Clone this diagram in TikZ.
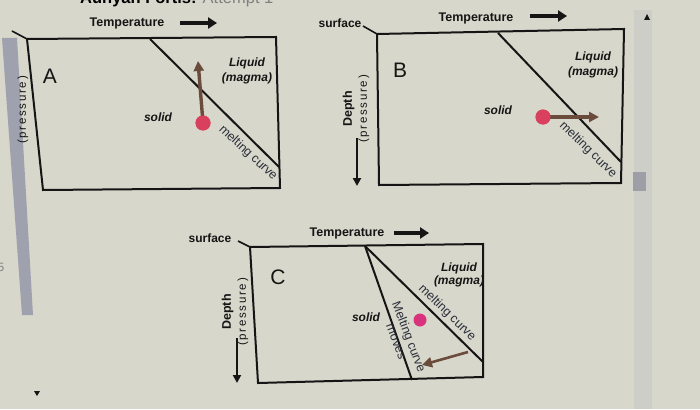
\documentclass[tikz,border=0pt]{standalone}
\usepackage{fontspec}
\setmainfont{Liberation Sans}
\usetikzlibrary{arrows.meta}
\definecolor{bg}{HTML}{D8D7CB}
\definecolor{ink}{HTML}{151515}
\definecolor{curvetext}{HTML}{2A2F3A}
\definecolor{brownarr}{HTML}{6A4B3C}
\definecolor{dotred}{HTML}{D9405E}
\definecolor{dotmag}{HTML}{D8337C}
\definecolor{barcol}{HTML}{9FA2AE}
\definecolor{scrollcol}{HTML}{CECEC8}
\definecolor{thumbcol}{HTML}{9D9EA6}
\newcommand{\pressfnt}{\fontsize{11.5}{13}\selectfont\addfontfeature{LetterSpace=15}}
\tikzset{
  box/.style={draw=ink, line width=2pt, line join=miter},
  meltline/.style={draw=ink, line width=2pt},
  surfline/.style={draw=ink, line width=1.6pt},
  tlabel/.style={font=\fontsize{12.5}{14}\selectfont\bfseries, text=ink, inner sep=0pt},
  surflabel/.style={font=\fontsize{12}{14}\selectfont\bfseries, text=ink, inner sep=0pt},
  tarrow/.style={draw=ink, line width=3.6pt, -{Triangle[length=9pt,width=11pt]}},
  darrow/.style={draw=ink, line width=2.2pt, -{Triangle[length=8pt,width=8pt]}},
  barrow/.style={draw=brownarr, line width=3.4pt, -{Triangle[length=10pt,width=10pt]}},
  panel/.style={font=\fontsize{21}{24}\selectfont, text=ink, inner sep=0pt},
  phase/.style={font=\fontsize{12}{14}\selectfont\bfseries\itshape, text=ink, inner sep=0pt, align=center},
  curvelabel/.style={font=\fontsize{12.5}{13.5}\selectfont, text=curvetext, inner sep=0pt, align=center},
  depthlabel/.style={font=\fontsize{12.5}{14}\selectfont, text=ink, inner sep=0pt, align=center, rotate=90},
  dot/.style={circle, fill=#1, inner sep=0pt, minimum size=15pt},
}
\begin{document}
\begin{tikzpicture}[x=1pt,y=-1pt]
\useasboundingbox (0,0) rectangle (700,409);
\clip (0,0) rectangle (700,409);
\fill[bg] (0,0) rectangle (700,409);

% screen artefacts
\fill[barcol] (2,38) -- (17,38) -- (33,315) -- (22,315) -- cycle;
\fill[scrollcol] (634,10) rectangle (652,409);
\fill[thumbcol] (633,172) rectangle (646,191);
\fill[ink] (644,20) -- (650,20) -- (647,14) -- cycle;
\fill[ink] (34,391) -- (40,391) -- (37,396) -- cycle;
\node[font=\fontsize{12}{14}\selectfont, text=gray, inner sep=0pt] (edge5) at (1,267) {5};

% title (cut off at top)
\node[anchor=base west, inner sep=0pt, font=\fontsize{16.5}{18}\selectfont] (title) at (80,4)
  {\textbf{Aunyah Fortis:} \textcolor{gray}{Attempt 1}};

% ================= Panel A =================
\coordinate (A1) at (27,39);
\coordinate (A2) at (276,37);
\coordinate (A3) at (280,188);
\coordinate (A4) at (43,190);
\coordinate (sA) at (12,31);
\draw[box] (A1) -- (A2) -- (A3) -- (A4) -- cycle;
\draw[surfline] (sA) -- (A1);
\coordinate (mA1) at (150,39);
\coordinate (mA2) at (279,167);
\draw[meltline] (mA1) -- (mA2);
\node[tlabel] (tA) at (127,23) {Temperature};
\coordinate (tAs) at (180,23);
\coordinate (tAe) at (217,23);
\draw[tarrow] (tAs) -- (tAe);
\node[panel] (labA) at (50,76) {A};
\node[phase] (liqA) at (247,71) {Liquid\\[1pt](magma)};
\node[phase] (solA) at (158,117) {solid};
\node[curvelabel, rotate=-43] (mcA) at (248,153) {melting curve};
\node[depthlabel] (dA) at (23,110) {\pressfnt(pressure)};
\coordinate (aAe) at (198,61);
\node[dot=dotred] (dotA) at (203,123) {};
\draw[barrow] (dotA.center) -- (aAe);
\node[dot=dotred] at (dotA) {};

% ================= Panel B =================
\coordinate (B1) at (377,34);
\coordinate (B2) at (624,29);
\coordinate (B3) at (621,183);
\coordinate (B4) at (379,185);
\coordinate (sB) at (363,26);
\draw[box] (B1) -- (B2) -- (B3) -- (B4) -- cycle;
\draw[surfline] (sB) -- (B1);
\node[surflabel] (surfB) at (340,23) {surface};
\coordinate (mB1) at (498,33);
\coordinate (mB2) at (621,162);
\draw[meltline] (mB1) -- (mB2);
\node[tlabel] (tB) at (476,18) {Temperature};
\coordinate (tBs) at (530,16);
\coordinate (tBe) at (567,16);
\draw[tarrow] (tBs) -- (tBe);
\node[panel] (labB) at (400,70) {B};
\node[phase] (liqB) at (593,65) {Liquid\\[1pt](magma)};
\node[phase] (solB) at (498,110) {solid};
\node[curvelabel, rotate=-44] (mcB) at (588,150) {melting curve};
\node[depthlabel] (dB) at (356,109) {\textbf{Depth}\\[1pt]\pressfnt(pressure)};
\coordinate (dBs) at (357,138);
\coordinate (dBe) at (357,186);
\draw[darrow] (dBs) -- (dBe);
\coordinate (aBe) at (599,117);
\node[dot=dotred] (dotB) at (543,117) {};
\draw[barrow] (dotB.center) -- (aBe);
\node[dot=dotred] at (dotB) {};

% ================= Panel C =================
\coordinate (C1) at (250,247);
\coordinate (C2) at (483,244);
\coordinate (C3) at (483,377);
\coordinate (C4) at (258,383);
\coordinate (sC) at (238,241);
\draw[box] (C1) -- (C2) -- (C3) -- (C4) -- cycle;
\draw[surfline] (sC) -- (C1);
\node[surflabel] (surfC) at (210,238) {surface};
\coordinate (apex) at (365,246);
\coordinate (mC1) at (483,362);
\coordinate (mC2) at (412,380);
\draw[meltline] (apex) -- (mC1);
\draw[meltline] (apex) -- (mC2);
\node[tlabel] (tC) at (347,233) {Temperature};
\coordinate (tCs) at (394,233);
\coordinate (tCe) at (429,233);
\draw[tarrow] (tCs) -- (tCe);
\node[panel] (labC) at (278,277) {C};
\node[phase] (liqC) at (459,275) {Liquid\\[-1pt](magma)};
\node[phase] (solC) at (366,317) {solid};
\node[curvelabel, rotate=-44] (mcC) at (447,313) {melting curve};
\node[curvelabel, rotate=-69] (mvC) at (403,339) {Melting curve\\moves};
\node[depthlabel] (dC) at (235,312) {\textbf{Depth}\\[1pt]\pressfnt(pressure)};
\coordinate (dCs) at (237,338);
\coordinate (dCe) at (237,383);
\draw[darrow] (dCs) -- (dCe);
\node[dot=dotmag, minimum size=13pt] (dotC) at (420,320) {};
\coordinate (aCs) at (468,352);
\coordinate (aCe) at (422,365);
\draw[barrow, line width=2.6pt] (aCs) -- (aCe);
\end{tikzpicture}
\end{document}
